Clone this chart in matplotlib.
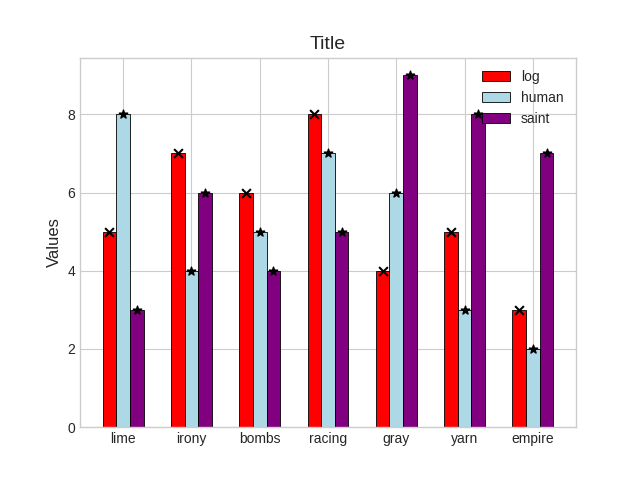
import numpy as np
import matplotlib
matplotlib.use('Agg')
import matplotlib.pyplot as plt

plt.style.use('seaborn-v0_8-whitegrid')

categories = ['lime', 'irony', 'bombs', 'racing', 'gray', 'yarn', 'empire']
log_vals = [5, 7, 6, 8, 4, 5, 3]
human_vals = [8, 4, 5, 7, 6, 3, 2]
saint_vals = [3, 6, 4, 5, 9, 8, 7]

series = [('log', log_vals, 'red', 'x'),
          ('human', human_vals, 'lightblue', '*'),
          ('saint', saint_vals, 'purple', '*')]

x = np.arange(len(categories))
w = 0.2
fig, ax = plt.subplots(figsize=(6.4, 4.8), dpi=100)
for i, (name, vals, color, mk) in enumerate(series):
    pos = x + (i - 1) * w
    ax.bar(pos, vals, w, color=color, edgecolor='black', linewidth=0.6, label=name)
    ax.scatter(pos, vals, marker=mk, color='black', s=40, zorder=3)

ax.set_xticks(x)
ax.set_xticklabels(categories)
ax.set_ylabel('Values', fontsize=12)
ax.set_title('Title', fontsize=14)
ax.legend(loc='upper right')
for s in ax.spines.values():
    s.set_visible(True)
    s.set_color('#cccccc')
fig.savefig('out.png')
